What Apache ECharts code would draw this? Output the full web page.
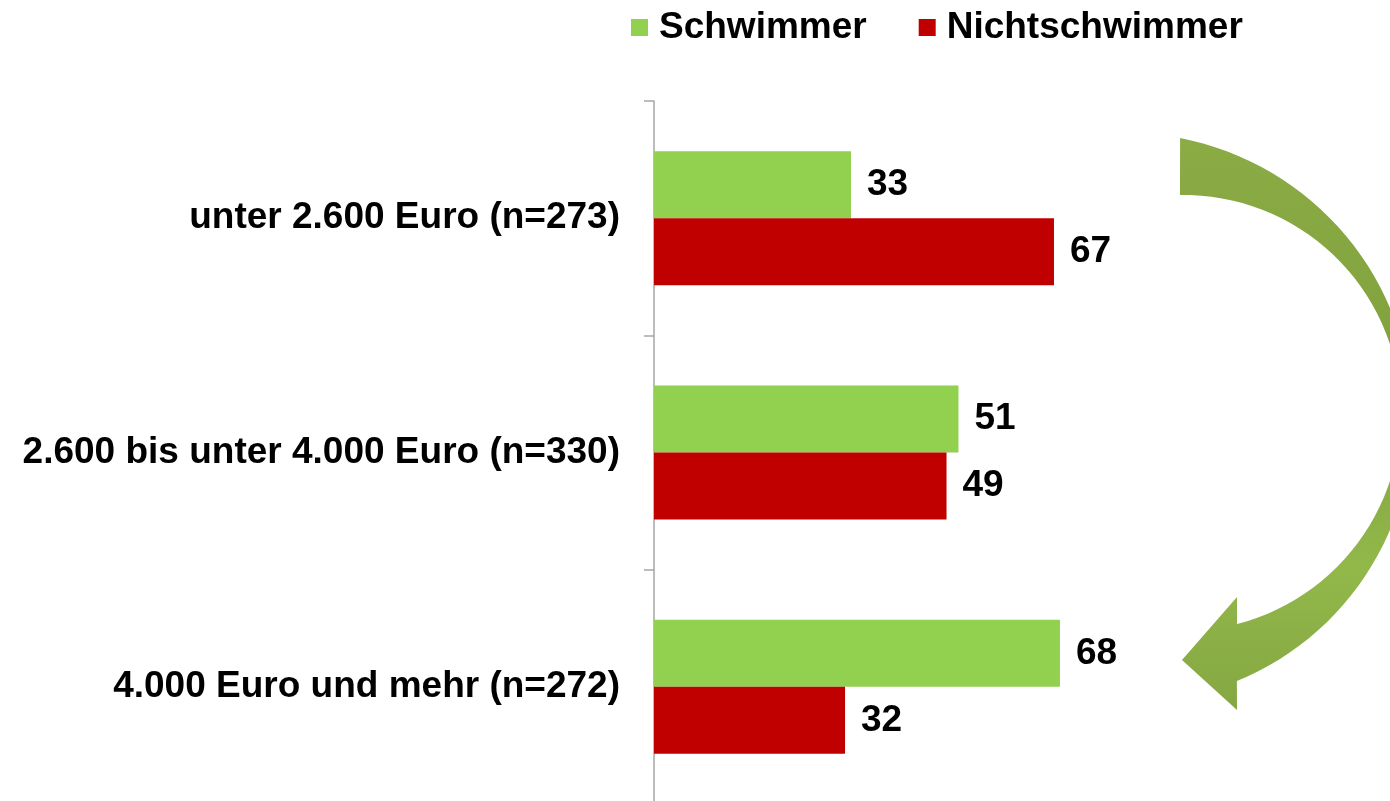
<!DOCTYPE html>
<html>
<head>
<meta charset="utf-8">
<script src="https://cdn.jsdelivr.net/npm/echarts@6/dist/echarts.min.js"></script>
<style>
  html, body { margin: 0; padding: 0; background: #fff; }
  #main { width: 1390px; height: 801px; }
</style>
</head>
<body>
<div id="main"></div>
<script>
    // Einkommensgruppen
    var categories = ['unter 2.600 Euro (n=273)', '2.600 bis unter 4.000 Euro (n=330)', '4.000 Euro und mehr (n=272)'];
    var schwimmer = [33, 51, 68];
    var nichtschwimmer = [67, 49, 32];
    var seriesNames = ['Schwimmer', 'Nichtschwimmer'];

    var FONT = "'Liberation Sans', Arial, sans-serif";

    // gebogener Pfeil rechts (nur Deko)
    function arcPoints(cx, cy, r1, r2, a1, a2, n) {
        var pts = [];
        for (var i = 0; i <= n; i++) {
            var t = i / n;
            var a = (a1 + (a2 - a1) * t) * Math.PI / 180;
            var r = r1 + (r2 - r1) * t;
            pts.push([cx + r * Math.cos(a), cy + r * Math.sin(a)]);
        }
        return pts;
    }
    function arrowShape() {
        var outer = arcPoints(1128, 422, 288.7, 281, -79.6, 67.2, 60);
        var inner = arcPoints(1183, 412, 217, 218.8, -90.8, 75.7, 60).reverse();
        var head = [[1237, 710], [1182, 660], [1237, 597], [1237, 624]];
        return outer.concat(head).concat(inner);
    }

    var myChart = echarts.init(document.getElementById('main'));
    var option = {
        backgroundColor: '#fff',
        animation: false,
        legend: {
            left: 631,
            top: 9,
            padding: 0,
            itemWidth: 17,
            itemHeight: 17,
            itemGap: 52,
            icon: 'rect',
            data: seriesNames,
            textStyle: {
                fontFamily: FONT,
                fontSize: 37,
                fontWeight: 'bold',
                color: '#000',
                padding: [0, 0, 0, 6]
            }
        },
        grid: {
            left: 654,
            top: 101,
            width: 597,
            height: 703,
            outerBoundsMode: 'none',
            containLabel: false
        },
        xAxis: {
            type: 'value',
            min: 0,
            max: 100,
            show: false
        },
        yAxis: {
            type: 'category',
            inverse: true,
            data: categories,
            axisLine: { show: true, lineStyle: { color: '#a6a6a6', width: 1.5 } },
            axisTick: { show: true, length: 10, lineStyle: { color: '#a6a6a6', width: 1.5 } },
            axisLabel: {
                margin: 34,
                fontFamily: FONT,
                fontSize: 37,
                fontWeight: 'bold',
                color: '#000'
            }
        },
        series: [{
            name: seriesNames[0],
            type: 'bar',
            data: schwimmer,
            barWidth: 67,
            barGap: '0%',
            itemStyle: { color: '#92d050' },
            label: {
                show: true,
                position: 'right',
                distance: 16,
                fontFamily: FONT,
                fontSize: 37,
                fontWeight: 'bold',
                color: '#000'
            }
        }, {
            name: seriesNames[1],
            type: 'bar',
            data: nichtschwimmer,
            barWidth: 67,
            barGap: '0%',
            itemStyle: { color: '#c00000' },
            label: {
                show: true,
                position: 'right',
                distance: 16,
                fontFamily: FONT,
                fontSize: 37,
                fontWeight: 'bold',
                color: '#000'
            }
        }],
        graphic: [{
            type: 'polygon',
            silent: true,
            shape: { points: arrowShape() },
            style: {
                fill: {
                    type: 'linear', x: 0, y: 0, x2: 0, y2: 1, global: false,
                    colorStops: [
                        { offset: 0, color: '#8bab45' },
                        { offset: 0.45, color: '#80a03c' },
                        { offset: 0.75, color: '#92b84a' },
                        { offset: 1, color: '#85a742' }
                    ]
                }
            }
        }]
    };
    myChart.setOption(option);
</script>
</body>
</html>
